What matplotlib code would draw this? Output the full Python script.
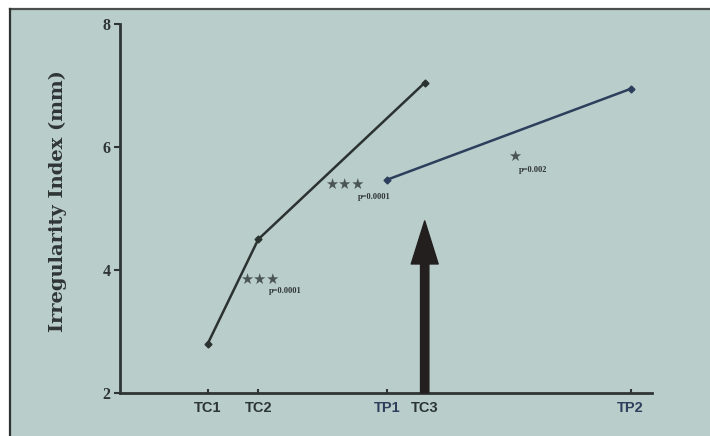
import matplotlib.pyplot as plt
from matplotlib.patches import Rectangle
from matplotlib.lines import Line2D

# Data
tc_labels = ['TC1', 'TC2', 'TC3']
tc_x = [1.65, 2.6, 5.73]
tc_values = [2.8, 4.5, 7.05]

tp_labels = ['TP1', 'TP2']
tp_x = [5.02, 9.6]
tp_values = [5.47, 6.95]

y_ticks = [2, 4, 6, 8]

bg = '#b9cdca'
tc_color = '#2b3230'
tp_color = '#2c3f5c'

fig = plt.figure(figsize=(7.1, 4.36), dpi=100, facecolor='white')

# photo background with a dark edge on top and left (white margin outside)
x0 = 9.5 / 710
y1 = 1 - 9.5 / 436
fig.patches.append(Rectangle((x0, 0), 1 - x0, y1, transform=fig.transFigure,
                             facecolor=bg, edgecolor='none', zorder=-2))
fig.lines.append(Line2D([x0, 1], [y1, y1], transform=fig.transFigure,
                        color='#4a4f4e', lw=1.6, zorder=-1))
fig.lines.append(Line2D([x0, x0], [0, y1], transform=fig.transFigure,
                        color='#2e3332', lw=1.6, zorder=-1))

ax = fig.add_axes([0.169, 0.099, 0.749, 0.845], facecolor='none')
ax.set_zorder(1)

# Lines
ax.plot(tc_x, tc_values, color=tc_color, lw=1.8, marker='D', markersize=3.5, zorder=3)
ax.plot(tp_x, tp_values, color=tp_color, lw=1.8, marker='D', markersize=3.5, zorder=3)

# Big arrow at TC3
ax.annotate('', xy=(tc_x[2], 4.8), xytext=(tc_x[2], 2.0),
            arrowprops=dict(arrowstyle='simple,head_length=1.55,head_width=0.97,tail_width=0.3',
                            mutation_scale=20, color='#231f1f', shrinkA=0, shrinkB=0),
            zorder=4)

# Significance labels
star_kw = dict(color='#4a5553', fontsize=10.5, family='DejaVu Sans')
sub_kw = dict(color='#2e3534', fontsize=6, family='Liberation Serif', fontweight='bold')
ax.text(2.25, 3.78, '★★★', **star_kw)
ax.text(2.8, 3.62, 'p=0.0001', **sub_kw)
ax.text(3.85, 5.32, '★★★', **star_kw)
ax.text(4.47, 5.15, 'p=0.0001', **sub_kw)
ax.text(7.3, 5.78, '★', **star_kw)
ax.text(7.5, 5.6, 'p=0.002', **sub_kw)

# Axes
ax.set_xlim(0, 10)
ax.set_ylim(2, 8)
for s in ['top', 'right']:
    ax.spines[s].set_visible(False)
for s in ['left', 'bottom']:
    ax.spines[s].set_color('#2e3534')
    ax.spines[s].set_linewidth(2)

ax.set_yticks(y_ticks)
ax.set_yticklabels([str(v) for v in y_ticks], fontsize=11.5, family='Liberation Serif',
                   fontweight='bold', color='#2e3534')
ax.tick_params(axis='y', length=4, width=1.5, color='#2e3534', pad=3)

xt = tc_x + tp_x
xl = tc_labels + tp_labels
ax.set_xticks(xt)
ax.set_xticklabels(xl, fontsize=10.5, family='Liberation Sans', fontweight='bold')
for lab in ax.get_xticklabels():
    lab.set_color(tp_color if lab.get_text().startswith('TP') else '#2b3533')
ax.tick_params(axis='x', length=3, width=1.5, color='#2e3534', pad=6, direction='in')

ax.set_ylabel('Irregularity Index (mm)', fontsize=14, family='DejaVu Serif',
              fontweight='bold', color='#2e3534')
ax.yaxis.set_label_coords(-0.1, 0.52)

fig.savefig('out.png', dpi=100, facecolor='white')
